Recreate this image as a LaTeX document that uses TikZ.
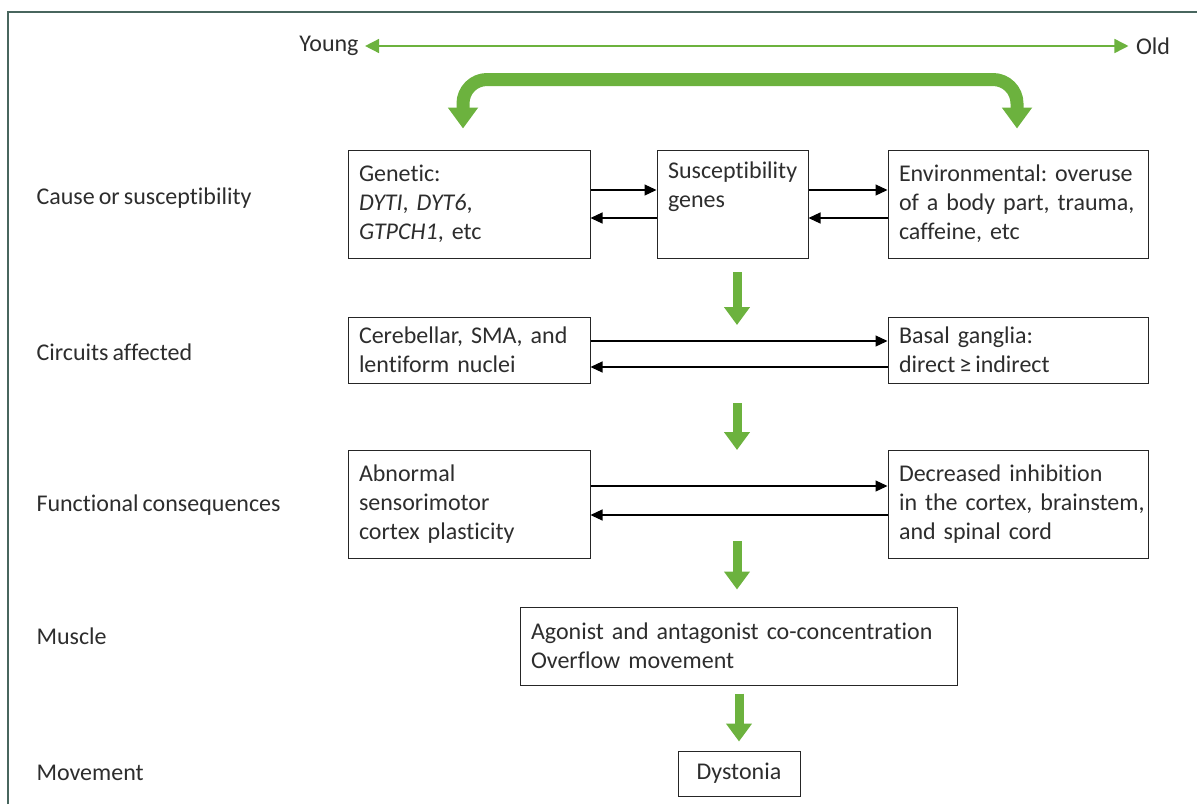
\documentclass[tikz,border=0pt]{standalone}
\usepackage{fontspec}
\setmainfont[Ligatures = NoCommon, WordSpace = 0.75]{Carlito}
\usepackage{tikz}
\usetikzlibrary{arrows.meta}
\usepackage{xcolor}
\definecolor{arrowgreen}{RGB}{108,178,62}
\definecolor{framegray}{RGB}{72,102,94}
\definecolor{textgray}{RGB}{45,45,45}
\frenchspacing

\begin{document}
\begin{tikzpicture}[
            x = 1pt, y = -1pt,
            font = \fontsize{24}{29}\selectfont,
            text = textgray,
            box/.style = {draw = black!85, line width = 1pt, align = left,
                          inner xsep = 11pt, inner ysep = 0pt},
            row/.style = {anchor = west},
            link/.style = {black, line width = 1.2pt,
                           -{Triangle[length = 12pt, width = 11pt]}},
            down/.style = {arrowgreen, line width = 9pt,
                           -{Triangle[length = 18pt, width = 25pt]}},
            ]
            \useasboundingbox (0,0) rectangle (1197,804);
            \draw[framegray, line width = 2pt] (8,804) |- (1197,12);

            % age axis
            \node (young) at (329,46) {Young};
            \node (old) at (1153,46) {Old};
            \draw[arrowgreen, line width = 1.6pt, shorten < = 3pt, shorten > = 4pt,
                  {Triangle[length = 14pt, width = 14pt]}-{Triangle[length = 14pt, width = 14pt]}]
                  (young) -- (old);

            % row labels
            \node[row] (lcause) at (33,198) {Cause or susceptibility};
            \node[row] (lcirc) at (33,352) {Circuits affected};
            \node[row] (lfunc) at (33,505) {Functional consequences};
            \node[row] (lmusc) at (33,636) {Muscle};
            \node[row] (lmove) at (33,773) {Movement};

            % boxes
            \node[box, text width = 220pt, minimum height = 108pt] (gen) at (469,204)
                 {Genetic:\\\textit{DYTI}, \textit{DYT6},\\\textit{GTPCH1}, etc};
            \node[box, text width = 129pt, minimum height = 108pt] (sus) at (732.5,204)
                 {Susceptibility\\genes\\\strut};
            \node[box, text width = 238pt, minimum height = 108pt] (env) at (1018,204)
                 {Environmental: overuse\\of a body part, trauma,\\caffeine, etc};
            \node[box, text width = 220pt, minimum height = 66pt] (cer) at (469,350)
                 {Cerebellar, SMA, and\\lentiform nuclei};
            \node[box, text width = 238pt, minimum height = 66pt] (bas) at (1018,350)
                 {Basal ganglia:\\direct\,≥\,indirect};
            \node[box, text width = 220pt, minimum height = 108pt] (abn) at (469,504)
                 {Abnormal\\sensorimotor\\cortex plasticity};
            \node[box, text width = 238pt, minimum height = 108pt] (dec) at (1018,504)
                 {Decreased inhibition\\\mbox{in the cortex, brainstem,}\\and spinal cord};
            \node[box, text width = 415pt, minimum height = 78pt] (mus) at (738.5,646)
                 {Agonist and antagonist co-concentration\\Overflow movement};
            \node[box, minimum width = 122pt, minimum height = 45pt] (dys) at (739,773.5)
                 {Dystonia};

            % two-way links
            \draw[link] (gen.east |- 0,190) -- (sus.west |- 0,190);
            \draw[link] (sus.west |- 0,218) -- (gen.east |- 0,218);
            \draw[link] (sus.east |- 0,190) -- (env.west |- 0,190);
            \draw[link] (env.west |- 0,218) -- (sus.east |- 0,218);
            \draw[link] (cer.east |- 0,341) -- (bas.west |- 0,341);
            \draw[link] (bas.west |- 0,367) -- (cer.east |- 0,367);
            \draw[link] (abn.east |- 0,486) -- (dec.west |- 0,486);
            \draw[link] (dec.west |- 0,515) -- (abn.east |- 0,515);

            % green flow down
            \coordinate (d1) at (737,272);
            \coordinate (d2) at (737,403);
            \coordinate (d3) at (737,541);
            \draw[down] (d1) -- ++(0,53);
            \draw[down] (d2) -- ++(0,47);
            \draw[down] (d3) -- (mus.north -| d3) [shorten > = 17pt];
            \draw[down, shorten < = 8pt, shorten > = 9pt] (mus.south -| dys) -- (dys.north);

            % age feeds both causes
            \draw[arrowgreen, line width = 13pt, rounded corners = 24pt,
                  {Triangle[length = 21pt, width = 29pt]}-{Triangle[length = 21pt, width = 29pt]}]
                  ([xshift = -6pt, yshift = 21pt]gen.north) -- ++(0,-49)
                  -| ([xshift = -1pt, yshift = 21pt]env.north);
\end{tikzpicture}
\end{document}
